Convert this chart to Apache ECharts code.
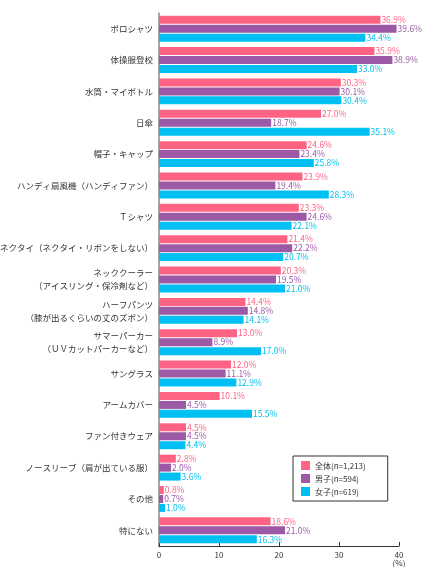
<!DOCTYPE html>
<html>
<head>
<meta charset="utf-8">
<script src="https://cdn.jsdelivr.net/npm/echarts@6/dist/echarts.min.js"></script>
<style>html,body{margin:0;padding:0;background:#fff}#main{width:432px;height:567px}</style>
</head>
<body>
<div id="main"></div>
<script>
// カテゴリ
var categories = ['ポロシャツ','体操服登校','水筒・マイボトル','日傘','帽子・キャップ','ハンディ扇風機（ハンディファン）','Ｔシャツ','ノーネクタイ（ネクタイ・リボンをしない）','ネッククーラー\n（アイスリング・保冷剤など）','ハーフパンツ\n（膝が出るくらいの丈のズボン）','サマーパーカー\n（ＵＶカットパーカーなど）','サングラス','アームカバー','ファン付きウェア','ノースリーブ（肩が出ている服）','その他','特にない'];
var allValues = [36.9,35.9,30.3,27.0,24.6,23.9,23.3,21.4,20.3,14.4,13.0,12.0,10.1,4.5,2.8,0.8,18.6];
var boyValues = [39.6,38.9,30.1,18.7,23.4,19.4,24.6,22.2,19.5,14.8,8.9,11.1,4.5,4.5,2.0,0.7,21.0];
var girlValues = [34.4,33.0,30.4,35.1,25.8,28.3,22.1,20.7,21.0,14.1,17.0,12.9,15.5,4.4,3.6,1.0,16.3];
var seriesNames = ['全体(n=1,213)','男子(n=594)','女子(n=619)'];
var colors = ['#ff6384','#9b59a6','#00bff3'];

var chart = echarts.init(document.getElementById('main'));
var font = '"Noto Sans CJK JP", sans-serif';
function mk(name, data, color){
  return {
    name: name, type: 'bar', data: data,
    barWidth: 8, barGap: '12%', barCategoryGap: '30%',
    itemStyle: {color: color},
    label: {show: true, position: 'right', distance: 1, color: color,
      fontSize: 8.5, fontFamily: font, formatter: function(p){ return p.value.toFixed(1) + '%'; }}
  };
}
var option = {
  animation: false,
  color: colors,
  grid: {left: 159, right: 33, top: 13, bottom: 21, containLabel: false, outerBoundsMode: 'none'},
  legend: {
    orient: 'vertical', left: 293, top: 456,
    borderColor: '#333', borderWidth: 1, padding: [5, 22, 5, 8],
    itemWidth: 9, itemHeight: 9, itemGap: 4,
    textStyle: {fontSize: 8, fontFamily: font, color: '#333'},
    data: seriesNames.map(function(n){ return {name: n, icon: 'rect'}; })
  },
  xAxis: {
    type: 'value', min: 0, max: 40, interval: 10,
    splitLine: {show: false},
    axisLine: {show: true, lineStyle: {color: '#333'}},
    axisTick: {show: true, length: 4, inside: true, lineStyle: {color: '#333'}},
    axisLabel: {fontSize: 8, color: '#333', fontFamily: font, margin: 5,
      formatter: function(v){ return v === 40 ? '40\n(%)' : v; }}
  },
  yAxis: {
    type: 'category', inverse: true, data: categories,
    axisLine: {show: true, lineStyle: {color: '#888', width: 1.5}},
    axisTick: {show: false},
    axisLabel: {fontSize: 8.5, color: '#333', fontFamily: font, margin: 6, lineHeight: 13}
  },
  series: [mk(seriesNames[0], allValues, colors[0]), mk(seriesNames[1], boyValues, colors[1]), mk(seriesNames[2], girlValues, colors[2])]
};
chart.setOption(option);
</script>
</body>
</html>
